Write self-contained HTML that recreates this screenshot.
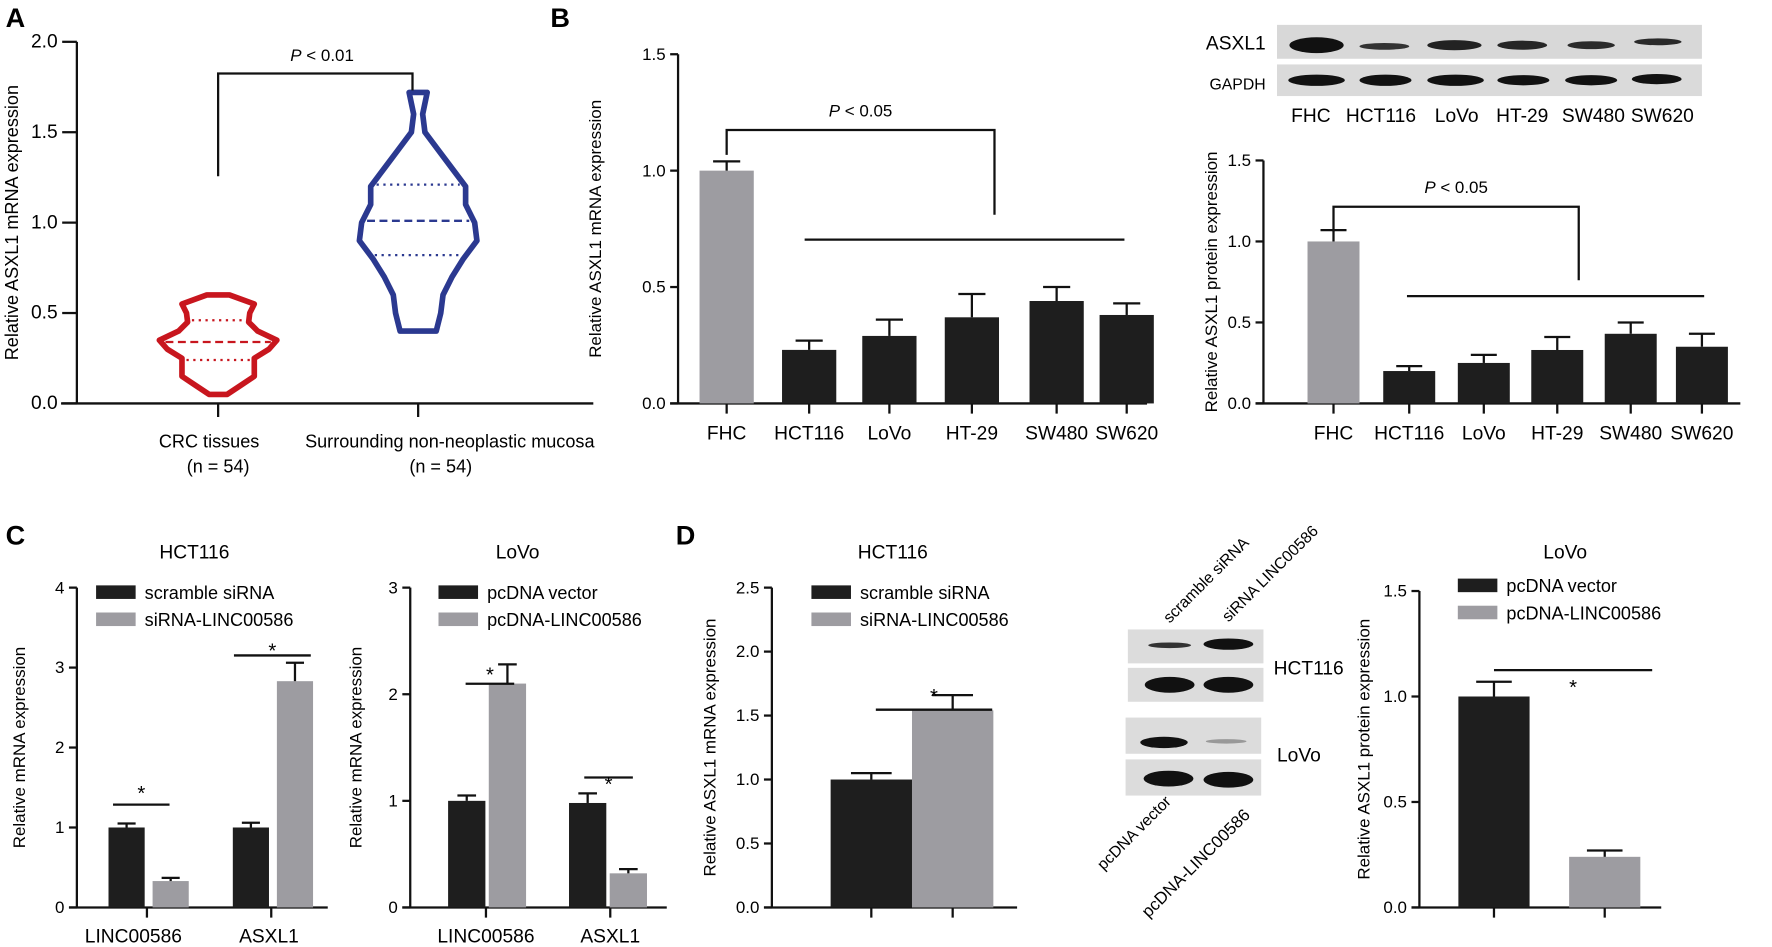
<!DOCTYPE html>
<html><head><meta charset="utf-8"><style>
html,body{margin:0;padding:0;background:#fff;}
svg{display:block;font-family:"Liberation Sans",Arial,sans-serif;}
</style></head><body>
<svg id="fig" width="1772" height="947" viewBox="0 0 1568 838" xmlns="http://www.w3.org/2000/svg">
<g id="static">
<text x="5" y="24" font-size="24" font-weight="bold">A</text>
<text x="487" y="24" font-size="24" font-weight="bold">B</text>
<text x="5" y="482" font-size="24" font-weight="bold">C</text>
<text x="598" y="482" font-size="24" font-weight="bold">D</text>
<g>
<rect x="1130" y="22" width="376" height="30" fill="#d8d8d8"/>
<rect x="1130" y="57" width="376" height="28" fill="#dadada"/>
<ellipse cx="1165" cy="40" rx="24" ry="7" fill="#111"/>
<ellipse cx="1225" cy="41" rx="22" ry="3" fill="#333"/>
<ellipse cx="1287" cy="40" rx="24" ry="4.5" fill="#222"/>
<ellipse cx="1347" cy="40" rx="22" ry="4" fill="#262626"/>
<ellipse cx="1408" cy="40" rx="21" ry="3.5" fill="#2a2a2a"/>
<ellipse cx="1467" cy="37" rx="21" ry="3" fill="#2a2a2a"/>
<ellipse cx="1165" cy="71" rx="25" ry="5" fill="#111"/>
<ellipse cx="1226" cy="71" rx="23" ry="5" fill="#111"/>
<ellipse cx="1288" cy="71" rx="25" ry="5" fill="#111"/>
<ellipse cx="1348" cy="71" rx="23" ry="4.5" fill="#111"/>
<ellipse cx="1408" cy="71" rx="23" ry="4.5" fill="#111"/>
<ellipse cx="1466" cy="70" rx="22" ry="4.5" fill="#111"/>
<text x="1120" y="44" font-size="17" text-anchor="end">ASXL1</text>
<text x="1120" y="79" font-size="14" text-anchor="end">GAPDH</text>
<g font-size="17" text-anchor="middle">
<text x="1160" y="108">FHC</text><text x="1222" y="108">HCT116</text><text x="1289" y="108">LoVo</text>
<text x="1347" y="108">HT-29</text><text x="1410" y="108">SW480</text><text x="1471" y="108">SW620</text></g>
</g>
<g>
<rect x="998" y="557" width="120" height="30" fill="#dcdcdc"/>
<rect x="998" y="591" width="120" height="30" fill="#dcdcdc"/>
<rect x="996" y="635" width="120" height="32" fill="#dcdcdc"/>
<rect x="996" y="672" width="120" height="32" fill="#dcdcdc"/>
<ellipse cx="1035" cy="571" rx="19" ry="2.5" fill="#333"/>
<ellipse cx="1087" cy="570" rx="22" ry="5" fill="#111"/>
<ellipse cx="1035" cy="606" rx="22" ry="7" fill="#111"/>
<ellipse cx="1087" cy="606" rx="22" ry="7" fill="#111"/>
<ellipse cx="1030" cy="657" rx="21" ry="5" fill="#111"/>
<ellipse cx="1085" cy="656" rx="18" ry="2" fill="#999"/>
<ellipse cx="1034" cy="689" rx="22" ry="7" fill="#111"/>
<ellipse cx="1087" cy="690" rx="22" ry="7" fill="#111"/>
<text x="1127" y="597" font-size="17">HCT116</text>
<text x="1130" y="674" font-size="17">LoVo</text>
<text x="0" y="0" font-size="14" transform="translate(1035,552) rotate(-45)">scramble siRNA</text>
<text x="0" y="0" font-size="14" transform="translate(1087,551) rotate(-45)">siRNA LINC00586</text>
<text x="0" y="0" font-size="14" text-anchor="end" transform="translate(1037,710) rotate(-45)">pcDNA vector</text>
<text x="0" y="0" font-size="15" text-anchor="end" transform="translate(1107,722) rotate(-45)">pcDNA-LINC00586</text>
</g>
</g>
<g id="dyn"></g>
</svg>
<script>
// ---- Panel A data ----
const redValues = [0.05,0.1,0.15,0.2,0.25,0.3,0.35,0.4,0.45,0.5,0.55,0.6];
const redHalfWidths = [8,20,32,32,32,45,52,35,27,28,32,10];
const redQuartiles = [0.24,0.34,0.46];
const blueValues = [0.4,0.5,0.6,0.7,0.8,0.9,1.0,1.1,1.2,1.3,1.4,1.5,1.6,1.72];
const blueHalfWidths = [16,20,22,30,40,52,50,42,42,30,18,6,4,8];
const blueQuartiles = [0.82,1.01,1.21];
const aTicks = ["0.0","0.5","1.0","1.5","2.0"];
// ---- Panel B data ----
const bCategories = ["FHC","HCT116","LoVo","HT-29","SW480","SW620"];
const bMrnaValues = [1.0,0.23,0.29,0.37,0.44,0.38];
const bMrnaErrors = [0.04,0.04,0.07,0.10,0.06,0.05];
const bProteinValues = [1.0,0.2,0.25,0.33,0.43,0.35];
const bProteinErrors = [0.07,0.03,0.05,0.08,0.07,0.08];
const bTicks = ["0.0","0.5","1.0","1.5"];
// ---- Panel C data ----
const cGroups = ["LINC00586","ASXL1"];
const cHctControl = [1.0,1.0];
const cHctControlErr = [0.05,0.06];
const cHctTreated = [0.33,2.83];
const cHctTreatedErr = [0.04,0.23];
const cLovoControl = [1.0,0.98];
const cLovoControlErr = [0.05,0.09];
const cLovoTreated = [2.1,0.32];
const cLovoTreatedErr = [0.18,0.04];
const cHctTicks = ["0","1","2","3","4"];
const cLovoTicks = ["0","1","2","3"];
// ---- Panel D data ----
const dHctValues = [1.0,1.54];
const dHctErrors = [0.05,0.12];
const dLovoValues = [1.0,0.24];
const dLovoErrors = [0.07,0.03];
const dHctTicks = ["0.0","0.5","1.0","1.5","2.0","2.5"];
const dLovoTicks = ["0.0","0.5","1.0","1.5"];

const NS="http://www.w3.org/2000/svg";
const root=document.getElementById('dyn');
function mk(tag,attrs,parent,text){const e=document.createElementNS(NS,tag);for(const k in attrs)e.setAttribute(k,attrs[k]);if(text!==undefined)e.textContent=text;(parent||root).appendChild(e);return e;}
function line(x1,y1,x2,y2,p,w){return mk('line',{x1,y1,x2,y2,stroke:'#111','stroke-width':w||2},p);}
const BLACK='#1e1e1e',GRAY='#9d9ca1';

function axis(g,cfg){
  const sc=v=>cfg.y0-(v/cfg.max)*(cfg.y0-cfg.yTop);
  const tl_=cfg.tl||7;
  line(cfg.x0,cfg.yTop,cfg.x0,cfg.y0,g,2);
  line(cfg.x0-(cfg.xl||tl_),cfg.y0,cfg.xEnd,cfg.y0,g,2);
  cfg.ticks.forEach((t,i)=>{const v=parseFloat(t);const y=sc(v);
    line(cfg.x0-tl_,y,cfg.x0,y,g,2);
    const tl=mk('text',{x:cfg.x0-tl_-4,y:y+5,'font-size':cfg.fs||15,'text-anchor':'end'},g,t);
    
    
  });
  const ty=(cfg.y0+cfg.yTop)/2;
  const tt=mk('text',{x:0,y:0,'font-size':cfg.tfs||15,'text-anchor':'middle',transform:`translate(${cfg.titleX},${ty}) rotate(-90)`},g,cfg.title);
  
  
  return sc;
}
function bar(g,sc,y0,cx,w,v,err,fill){
  const r=mk('rect',{x:cx-w/2,y:sc(v),width:w,height:y0-sc(v),fill},g);
  
  
  const e=mk('g',{},g);
  
  
  line(cx,sc(v),cx,sc(v+err),e,2);line(cx-w/4,sc(v+err),cx+w/4,sc(v+err),e,2);
}
function legend(g,x,y,labels){
  labels.forEach((l,i)=>{const le=mk('g',{},g);
    
    
    mk('rect',{x:x,y:y+i*24,width:35,height:12,fill:i?GRAY:BLACK},le);
    mk('text',{x:x+43,y:y+i*24+12,'font-size':16},le,l);});
}
function star(g,x1,x2,ly,sy){const s=mk('g',{},g);
  
  
  line(x1,ly,x2,ly,s,2);mk('text',{x:(x1+x2)/2,y:sy,'font-size':18,'text-anchor':'middle'},s,'*');}

(function(){
  const g=mk('g',{});
  const sc=axis(g,{x0:68,y0:357,yTop:37,xEnd:525,ticks:aTicks,max:2,fs:17,title:'Relative ASXL1 mRNA expression',titleX:16,tfs:16,tl:13,xl:14});
  const cats=[[193,185,'CRC tissues','(n = 54)',redValues,redHalfWidths,redQuartiles,'#c8161e'],[370,398,'Surrounding non-neoplastic mucosa','(n = 54)',blueValues,blueHalfWidths,blueQuartiles,'#2b3990']];
  cats.forEach(c=>{const cx=c[0];
    line(cx,357,cx,369,g,2);
    const l1=mk('text',{x:c[1],y:396,'font-size':16,'text-anchor':'middle'},g,c[2]);
    
    
    const l2=mk('text',{x:cx+(c[1]>cx?20:0),y:418,'font-size':16,'text-anchor':'middle'},g,c[3]);
    
    
    const vals=c[4],hw=c[5];let pts=[];
    vals.forEach((v,i)=>pts.push([cx+hw[i],sc(v)]));
    for(let i=vals.length-1;i>=0;i--)pts.push([cx-hw[i],sc(vals[i])]);
    const p=mk('polygon',{points:pts.map(p=>p.join(',')).join(' '),fill:'none',stroke:c[7],'stroke-width':5,'stroke-linejoin':'round'},g);
    
    
    c[6].forEach((q,qi)=>{
      let w=0;for(let i=0;i<vals.length-1;i++){if(q>=vals[i]&&q<=vals[i+1]){const t=(q-vals[i])/(vals[i+1]-vals[i]);w=hw[i]+t*(hw[i+1]-hw[i]);}}
      const ql=mk('line',{x1:cx-w+4,y1:sc(q),x2:cx+w-4,y2:sc(q),stroke:c[7],'stroke-width':2,'stroke-dasharray':qi==1?'7,4':'2,4'},g);
      
      
    });
  });
  const br=mk('g',{},g);
  mk('polyline',{points:'193,156 193,65 365,65 365,80',fill:'none',stroke:'#111','stroke-width':2},br);
  const pt=mk('text',{x:285,y:54,'font-size':15,'text-anchor':'middle'},br);
  mk('tspan',{'font-style':'italic'},pt,'P');mk('tspan',{},pt,' < 0.01');
})();

function barPanel(name,cfg,cats,xs,vals,errs,bw,labelY){
  const g=mk('g',{});
  const sc=axis(g,cfg);
  cats.forEach((c,i)=>{
    line(xs[i],cfg.y0,xs[i],cfg.y0+9,g,2);
    bar(g,sc,cfg.y0,xs[i],bw,vals[i],errs[i],i==0?GRAY:BLACK);
    const t=mk('text',{x:xs[i],y:labelY,'font-size':17,'text-anchor':'middle'},g,c);
    
    
  });
  return g;
}
function pBracket(g,x1,x2,yb,ydrop,hx1,hx2,hy){
  const br=mk('g',{},g);
  mk('polyline',{points:`${x1},${yb+22} ${x1},${yb} ${x2},${yb} ${x2},${ydrop}`,fill:'none',stroke:'#111','stroke-width':2},br);
  line(hx1,hy,hx2,hy,br,2);
  const pt=mk('text',{x:(x1+x2)/2,y:yb-12,'font-size':15,'text-anchor':'middle'},br);
  mk('tspan',{'font-style':'italic'},pt,'P');mk('tspan',{},pt,' < 0.05');
}
(function(){
  const xs=[643,716,787,860,935,997];
  const g=barPanel('bar-chart-b-mrna',{x0:600,y0:357,yTop:48,xEnd:1015,ticks:bTicks,max:1.5,title:'Relative ASXL1 mRNA expression',titleX:532},bCategories,xs,bMrnaValues,bMrnaErrors,48,389);
  pBracket(g,643,880,115,190,712,995,212);
})();
(function(){
  const xs=[1180,1247,1313,1378,1443,1506];
  const g=barPanel('bar-chart-b-protein',{x0:1118,y0:357,yTop:142,xEnd:1540,ticks:bTicks,max:1.5,title:'Relative ASXL1 protein expression',titleX:1077},bCategories,xs,bProteinValues,bProteinErrors,46,389);
  pBracket(g,1180,1397,183,248,1245,1508,262);
})();
function groupPanel(name,cfg,title,titleX,legendX,legendLabels,groups,ctrl,ctrlE,trt,trtE,xsC,xsT,tickXs,bw,labelXs){
  const g=mk('g',{});
  const sc=axis(g,cfg);
  const tt=mk('text',{x:titleX,y:494,'font-size':17,'text-anchor':'middle'},g,title);
  
  
  legend(g,legendX,cfg.legY||518,legendLabels);
  tickXs.forEach(x=>line(x,cfg.y0,x,cfg.y0+9,g,2));
  ctrl.forEach((v,i)=>{bar(g,sc,cfg.y0,xsC[i],bw,v,ctrlE[i],BLACK);bar(g,sc,cfg.y0,xsT[i],bw,trt[i],trtE[i],GRAY);
    if(groups[i]){const t=mk('text',{x:labelXs[i],y:834,'font-size':17,'text-anchor':'middle'},g,groups[i]);
    
    }});
  return {g,sc};
}
(function(){
  const r=groupPanel('bar-chart-c-hct116',{x0:68,y0:803,yTop:520,xEnd:290,ticks:cHctTicks,max:4,title:'Relative mRNA expression',titleX:22},'HCT116',172,85,['scramble siRNA','siRNA-LINC00586'],cGroups,cHctControl,cHctControlErr,cHctTreated,cHctTreatedErr,[112,222],[151,261],[130,240],32,[118,238]);
  star(r.g,100,150,712,708);star(r.g,207,275,580,582);
})();
(function(){
  const r=groupPanel('bar-chart-c-lovo',{x0:363,y0:803,yTop:520,xEnd:590,ticks:cLovoTicks,max:3,title:'Relative mRNA expression',titleX:320},'LoVo',458,388,['pcDNA vector','pcDNA-LINC00586'],cGroups,cLovoControl,cLovoControlErr,cLovoTreated,cLovoTreatedErr,[413,520],[449,556],[430,540],33,[430,540]);
  star(r.g,412,455,605,603);star(r.g,517,560,688,700);
})();
(function(){
  const r=groupPanel('bar-chart-d-hct116',{x0:683,y0:803,yTop:520,xEnd:900,ticks:dHctTicks,max:2.5,title:'Relative ASXL1 mRNA expression',titleX:633},'HCT116',790,718,['scramble siRNA','siRNA-LINC00586'],[''],[dHctValues[0]],[dHctErrors[0]],[dHctValues[1]],[dHctErrors[1]],[771],[843],[771,843],72,[0]);
  star(r.g,775,878,628,622);
})();
(function(){
  const r=groupPanel('bar-chart-d-lovo',{x0:1256,y0:803,yTop:523,xEnd:1470,ticks:dLovoTicks,max:1.5,title:'Relative ASXL1 protein expression',titleX:1212,legY:512},'LoVo',1385,1290,['pcDNA vector','pcDNA-LINC00586'],[''],[dLovoValues[0]],[dLovoErrors[0]],[dLovoValues[1]],[dLovoErrors[1]],[1322],[1420],[1322,1420],63,[0]);
  star(r.g,1322,1462,593,614);
})();
</script>
</body></html>
